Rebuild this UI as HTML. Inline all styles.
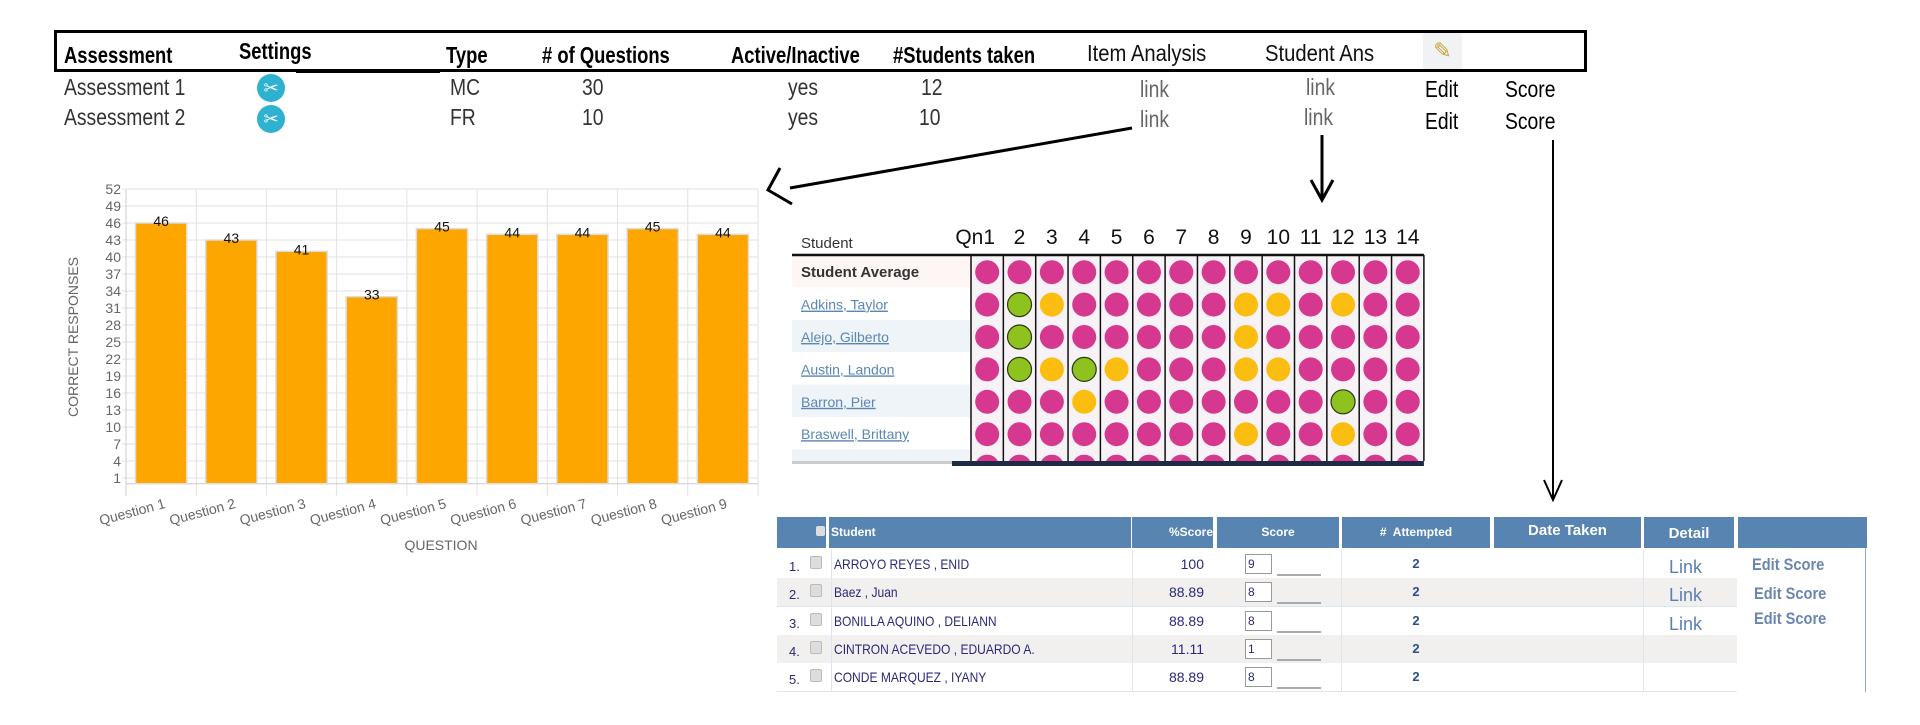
<!DOCTYPE html>
<html><head><meta charset="utf-8"><style>
body{margin:0;width:1920px;height:725px;background:#fff;position:relative;overflow:hidden;font-family:"Liberation Sans",sans-serif}
.a{position:absolute;white-space:nowrap}
.h{font-family:"Liberation Sans Narrow","Liberation Sans",sans-serif;font-weight:bold;font-size:23px;top:42px;transform:scaleX(.8);transform-origin:left}
.h2{font-family:"Liberation Sans Narrow","Liberation Sans",sans-serif;font-size:23px;top:40px;color:#111;transform:scaleX(.88);transform-origin:left}
.r{font-family:"Liberation Sans Narrow","Liberation Sans",sans-serif;font-size:23px;color:#333;font-weight:300;transform:scaleX(.84);transform-origin:left}
.lk{color:#666}
.n{transform:scaleX(.86);transform-origin:left}
</style></head><body>
<div class="a" style="left:54px;top:30px;width:1527px;height:36px;border:3px solid #000"></div>
<div class="a" style="left:296px;top:69px;width:144px;height:4px;background:#000"></div>
<div class="a h" style="left:64px">Assessment</div>
<div class="a h" style="left:239px;top:38px">Settings</div>
<div class="a h" style="left:446px">Type</div>
<div class="a h" style="left:542px">&#35; of Questions</div>
<div class="a h" style="left:731px">Active/Inactive</div>
<div class="a h" style="left:893px">#Students taken</div>
<div class="a h2" style="left:1087px">Item Analysis</div>
<div class="a h2" style="left:1265px">Student Ans</div>
<div class="a" style="left:1423px;top:33px;width:39px;height:36px;background:#f1f2f3;font-size:22px;text-align:center;line-height:36px;color:#c9a23a">✎</div>

<div class="a r" style="left:64px;top:74px">Assessment 1</div>
<div class="a r" style="left:64px;top:104px">Assessment 2</div>
<div class="a" style="left:257px;top:74px;width:28px;height:28px;border-radius:50%;background:#2fb2d2;color:#fff;text-align:center;line-height:28px;font-size:18px">✂</div>
<div class="a" style="left:257px;top:105px;width:28px;height:28px;border-radius:50%;background:#2fb2d2;color:#fff;text-align:center;line-height:28px;font-size:18px">✂</div>
<div class="a r" style="left:450px;top:74px">MC</div>
<div class="a r" style="left:450px;top:104px">FR</div>
<div class="a r" style="left:582px;top:74px">30</div>
<div class="a r" style="left:582px;top:104px">10</div>
<div class="a r" style="left:788px;top:74px">yes</div>
<div class="a r" style="left:788px;top:104px">yes</div>
<div class="a r" style="left:921px;top:74px">12</div>
<div class="a r" style="left:919px;top:104px">10</div>
<div class="a r lk" style="left:1140px;top:76px">link</div>
<div class="a r lk" style="left:1140px;top:106px">link</div>
<div class="a r lk" style="left:1306px;top:74px">link</div>
<div class="a r lk" style="left:1304px;top:104px">link</div>
<div class="a r" style="left:1425px;top:76px;color:#000">Edit</div>
<div class="a r" style="left:1425px;top:108px;color:#000">Edit</div>
<div class="a r" style="left:1505px;top:76px;color:#000">Score</div>
<div class="a r" style="left:1505px;top:108px;color:#000">Score</div>

<svg class="a" style="left:0;top:0" width="1920" height="725">
<g stroke="#000" stroke-width="3" fill="none">
<path d="M1132,128 L790,188"/><path d="M780,168 L768,190 L792,204"/>
<path d="M1322,135 L1322,198"/><path d="M1311,180 L1322,200 L1333,180"/>
<path d="M1553,140 L1553,498" stroke-width="2"/><path d="M1544,480 L1553,500 L1562,480" stroke-width="2"/>
</g></svg>

<svg id="chart" class="a" style="left:0;top:170px" width="780" height="400"></svg>

<svg id="grid" class="a" style="left:790px;top:210px" width="660" height="270"></svg>

<div class="a" style="left:777px;top:517px;width:1090px;height:175px;font-family:'Liberation Sans',sans-serif">
<div class="a" style="left:0;top:0;width:1090px;height:31px">
<div class="a" style="left:0;width:49px;height:31px;background:#5784b0"></div>
<div class="a" style="left:39px;top:9px;width:9px;height:10px;background:#ddd;border-radius:2px"></div>
<div class="a" style="left:52px;width:300px;height:31px;background:#5784b0;color:#fff;font-weight:bold;font-size:12px;line-height:31px;padding-left:2px">Student</div>
<div class="a" style="left:355px;width:81px;height:31px;background:#5784b0;color:#fff;font-weight:bold;font-size:12px;line-height:31px;text-align:right;padding-right:0">%Score</div>
<div class="a" style="left:440px;width:122px;height:31px;background:#5784b0;color:#fff;font-weight:bold;font-size:12px;line-height:31px;text-align:center">Score</div>
<div class="a" style="left:565px;width:148px;height:31px;background:#5784b0;color:#fff;font-weight:bold;font-size:12px;line-height:31px;text-align:center">#&nbsp; Attempted</div>
<div class="a" style="left:717px;width:147px;height:31px;background:#5784b0;color:#fff;font-weight:bold;font-size:15px;line-height:28px;text-align:center">Date Taken</div>
<div class="a" style="left:867px;width:90px;height:31px;background:#5784b0;color:#fff;font-weight:bold;font-size:15px;line-height:34px;text-align:center">Detail</div>
<div class="a" style="left:961px;width:129px;height:31px;background:#5784b0"></div>
</div>
<div id="rows"></div>
<div class="a" style="left:1088px;top:31px;width:1px;height:144px;background:#8aa8c8"></div>
</div>

<script>
// ---- bar chart data ----
const categories=["Question 1","Question 2","Question 3","Question 4","Question 5","Question 6","Question 7","Question 8","Question 9"];
const values=[46,43,41,33,45,44,44,45,44];
const yTicks=[1,4,7,10,13,16,19,22,25,28,31,34,37,40,43,46,49,52];
const yMax=52;
(function(){
 const s=document.getElementById('chart');const NS='http://www.w3.org/2000/svg';
 const L=126,R=758,T=19,B=313.7;
 const y=v=>B-(v/yMax)*(B-T);
 const cw=(R-L)/categories.length;
 const x=i=>L+i*cw;
 function el(t,a,p){const e=document.createElementNS(NS,t);for(const k in a)e.setAttribute(k,a[k]);(p||s).appendChild(e);return e;}
 yTicks.forEach(t=>{
  const g=el('line',{x1:L-4,x2:R,y1:y(t),y2:y(t),stroke:'#e2e2e2'});
  
  const tx=el('text',{x:L-5,y:y(t)+5,'text-anchor':'end','font-size':'14',fill:'#666'});tx.textContent=t;
  
 });
 for(let i=0;i<=categories.length;i++){
  const g=el('line',{x1:x(i),x2:x(i),y1:T,y2:B+12,stroke:'#e2e2e2'});
  
 }
 el('line',{x1:L,x2:R,y1:B,y2:B,stroke:'#ccc'});
 el('line',{x1:L,x2:L,y1:T,y2:B+12,stroke:'#ccc'});
 values.forEach((v,i)=>{
  const b=el('rect',{x:x(i)+9.5,y:y(v),width:cw-19,height:B-y(v),fill:'#fda600',stroke:'#dcdcdc','stroke-width':1.5});
  
  const t=el('text',{x:x(i)+cw/2,y:y(v)+3,'text-anchor':'middle','font-size':'14',fill:'#111'});t.textContent=v;
  
  const c=el('text',{x:x(i)+cw/2+5,y:B+24,'text-anchor':'end','font-size':'14',fill:'#666',transform:`rotate(-15 ${x(i)+cw/2+5} ${B+24})`});c.textContent=categories[i];
  
 });
 const xt=el('text',{x:441,y:380,'text-anchor':'middle','font-size':'14',fill:'#666'});xt.textContent='QUESTION';
 
 const yt=el('text',{x:78,y:167,'text-anchor':'middle','font-size':'14',fill:'#666',transform:'rotate(-90 78 167)'});yt.textContent='CORRECT RESPONSES';
 
})();

// ---- item analysis grid data ----
const qLabels=["Qn1","2","3","4","5","6","7","8","9","10","11","12","13","14"];
const studentNames=["Student Average","Adkins, Taylor","Alejo, Gilberto","Austin, Landon","Barron, Pier","Braswell, Brittany",""];
const rowAvg     =["p","p","p","p","p","p","p","p","p","p","p","p","p","p"];
const rowAdkins  =["p","g","y","p","p","p","p","p","y","y","p","y","p","p"];
const rowAlejo   =["p","g","p","p","p","p","p","p","y","p","p","p","p","p"];
const rowAustin  =["p","g","y","g","y","p","p","p","y","y","p","p","p","p"];
const rowBarron  =["p","p","p","y","p","p","p","p","p","p","p","g","p","p"];
const rowBraswell=["p","p","p","p","p","p","p","p","y","p","p","y","p","p"];
const rowNext    =["p","p","p","p","p","p","p","p","p","p","p","p","p","p"];
const gridRows=[rowAvg,rowAdkins,rowAlejo,rowAustin,rowBarron,rowBraswell,rowNext];
(function(){
 const s=document.getElementById('grid');const NS='http://www.w3.org/2000/svg';
 function el(t,a,p){const e=document.createElementNS(NS,t);for(const k in a)e.setAttribute(k,a[k]);(p||s).appendChild(e);return e;}
 const cx0=181,cw=32.35,top=45,rh=32.4,bottom=251;
 const col={p:'#d6378f',y:'#fbbd0f',g:'#8dc21f'};
 const clip=el('clipPath',{id:'gc'});el('rect',{x:0,y:0,width:660,height:bottom},clip);
 gridRows.forEach((r,ri)=>{
  const ry=top+ri*rh;
  el('rect',{x:2,y:ry,width:178,height:rh,fill:ri==0?'#fdf6f5':(ri%2==0?'#eef4f8':'#fff'),'clip-path':'url(#gc)'});
 });
 for(let c=0;c<qLabels.length;c++){
  el('rect',{x:cx0+c*cw,y:top,width:cw,height:bottom-top,fill:'#f7f2f5'});
 }
 for(let c=0;c<=qLabels.length;c++){
  const l=el('line',{x1:cx0+c*cw,x2:cx0+c*cw,y1:top,y2:bottom,stroke:'#111','stroke-width':1.5});
  
 }
 const g=el('g',{'clip-path':'url(#gc)'});
 gridRows.forEach((r,ri)=>{
  const cy=top+ri*rh+rh/2+1;
  r.forEach((v,ci)=>{
   const d=el('ellipse',{cx:cx0+ci*cw+cw/2,cy:cy,rx:12,ry:12,fill:col[v],stroke:v=='g'?'#2d3a13':'none','stroke-width':1.2},g);
   
  });
  const nm=studentNames[ri];
  if(nm){
   const t=el('text',{x:11,y:cy+5,'font-size':ri==0?'15':'14',fill:ri==0?'#333':'#5b86b5','font-weight':ri==0?'bold':'normal','text-decoration':ri==0?'none':'underline'});
   t.textContent=nm;
   
   
  }
 });
 qLabels.forEach((q,ci)=>{
  const t=el('text',{x:cx0+ci*cw+cw/2-(ci==0?12:0),y:34,'text-anchor':'middle','font-size':'21',fill:'#111'});
  t.textContent=q;
  
 });
 const st=el('text',{x:11,y:38,'font-size':'15',fill:'#333'});st.textContent='Student';
 
 el('line',{x1:2,x2:cx0+14*cw,y1:top,y2:top,stroke:'#111','stroke-width':2.5});
 el('rect',{x:162,y:251,width:cx0+14*cw-162,height:5,fill:'#1f2a44'});
 el('rect',{x:2,y:251,width:160,height:3,fill:'#ccc'});
})();

// ---- score table ----
const tNames=["ARROYO REYES , ENID","Baez , Juan","BONILLA AQUINO , DELIANN","CINTRON ACEVEDO , EDUARDO A.","CONDE MARQUEZ , IYANY"];
const tPct=["100","88.89","88.89","11.11","88.89"];
const tScore=["9","8","8","1","8"];
const tAtt=["2","2","2","2","2"];
(function(){
 const c=document.getElementById('rows').parentNode;
 tNames.forEach((n,i)=>{
  const top=33+i*28.3;const bg=i%2?'#f2efef':'#fff';
  const r=document.createElement('div');r.className='a';
  
  
  r.style.cssText=`left:0;top:${top}px;width:1088px;height:28px;font-size:12px;color:#2a2a7a`;
  r.innerHTML=`<div class="a" style="left:0;width:960px;height:28px;background:${bg};border-bottom:1px solid #dde6ee"></div>
  <div class="a" style="left:12px;top:9px;font-size:13px">${i+1}.</div>
  <div class="a" style="left:33px;top:6px;width:10px;height:11px;background:#ddd;border:1px solid #bbb;border-radius:2px"></div>
  <div class="a" style="left:54px;top:0;width:1px;height:28px;background:#dde6ee"></div>
  <div class="a n" style="left:57px;top:6px;font-size:14px">${n}</div>
  <div class="a" style="left:355px;top:0;width:1px;height:28px;background:#dde6ee"></div>
  <div class="a" style="left:355px;top:6px;width:72px;text-align:right;font-size:14px">${tPct[i]}</div>
  <div class="a" style="left:468px;top:4px;width:23px;height:18px;border:1px solid #999;background:#fff;font-size:12px;line-height:18px;padding-left:2px">${tScore[i]}</div>
  <div class="a" style="left:500px;top:24px;width:44px;height:2px;background:#aaa"></div>
  <div class="a" style="left:564px;top:0;width:1px;height:28px;background:#dde6ee"></div>
  <div class="a" style="left:565px;top:6px;width:148px;text-align:center;font-weight:bold;font-size:13px;color:#2d4f8a">${tAtt[i]}</div>
  <div class="a" style="left:866px;top:0;width:1px;height:28px;background:#dde6ee"></div>`;
  c.appendChild(r);
 });
 [0,1,2].forEach(i=>{
  const l=document.createElement('div');l.className='a';
  
  
  l.style.cssText=`left:892px;top:${40+i*28.3}px;font-size:18px;color:#5b7fb0`;
  l.textContent='Link';c.appendChild(l);
  const e=document.createElement('div');e.className='a n';
  
  
  e.style.cssText=`left:${i?977:975}px;top:${38+[0,29,54][i]}px;font-size:17px;font-weight:bold;color:#6a86b0`;
  e.textContent='Edit Score';c.appendChild(e);
 });
})();
</script>
</body></html>
